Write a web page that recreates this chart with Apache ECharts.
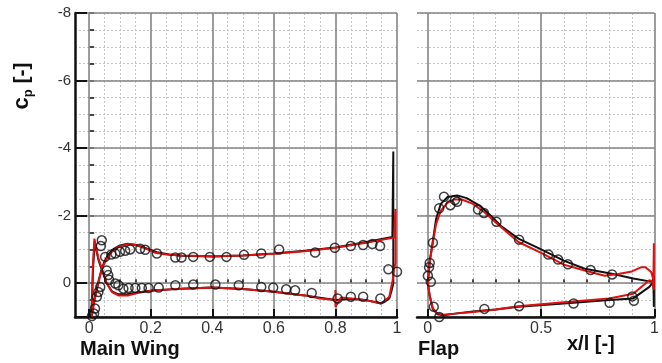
<!DOCTYPE html>
<html>
<head>
<meta charset="utf-8">
<script src="https://cdn.jsdelivr.net/npm/echarts@6/dist/echarts.min.js"></script>
<style>
  html, body { margin: 0; padding: 0; background: #fff; }
  #chart { width: 662px; height: 363px; }
</style>
</head>
<body>
<div id="chart"></div>
<script>
// tick positions
var mainMajorTicks = [0, 0.2, 0.4, 0.6, 0.8, 1];
var mainMinorTicks = [0.05, 0.1, 0.15, 0.25, 0.3, 0.35, 0.45, 0.5, 0.55, 0.65, 0.7, 0.75, 0.85, 0.9, 0.95];
var flapMajorTicks = [0, 0.5, 1];
var flapMinorTicks = [0.1, 0.2, 0.3, 0.4, 0.6, 0.7, 0.8, 0.9];

// main wing, experiment (x/l, cp)
var mainExp = [
  [0.041, -1.27], [0.038, -1.1], [0.052, -0.78], [0.072, -0.85], [0.085, -0.88], [0.1, -0.93],
  [0.117, -0.96], [0.133, -1.0], [0.166, -1.02], [0.182, -0.99], [0.22, -0.88], [0.28, -0.76],
  [0.3, -0.76], [0.338, -0.78], [0.392, -0.78], [0.446, -0.78], [0.503, -0.84], [0.559, -0.88],
  [0.617, -1.0], [0.734, -0.91], [0.798, -1.05], [0.85, -1.1], [0.89, -1.13], [0.92, -1.16],
  [0.945, -1.1], [0.972, -0.41], [1.0, -0.34],
  [0.009, 0.97], [0.016, 0.9], [0.019, 0.75], [0.025, 0.4], [0.03, 0.26], [0.036, 0.11],
  [0.057, -0.38], [0.062, -0.24], [0.065, -0.1], [0.085, 0.01], [0.095, 0.06], [0.111, 0.16],
  [0.128, 0.14], [0.15, 0.14], [0.171, 0.14], [0.193, 0.14], [0.226, 0.13], [0.28, 0.06],
  [0.338, 0.04], [0.41, 0.04], [0.486, 0.06], [0.559, 0.11], [0.598, 0.13], [0.64, 0.18],
  [0.669, 0.21], [0.723, 0.29], [0.807, 0.45], [0.85, 0.4], [0.89, 0.4], [0.946, 0.45]
];
// main wing, black CFD
var mainBlack = [
  [0.006, 1.0], [0.012, 0.7], [0.02, 0.35], [0.03, -0.05], [0.04, -0.4], [0.05, -0.65],
  [0.062, -0.85], [0.08, -1.02], [0.1, -1.12], [0.125, -1.17], [0.15, -1.14], [0.18, -1.05],
  [0.22, -0.92], [0.26, -0.85], [0.3, -0.81], [0.4, -0.79], [0.5, -0.82], [0.6, -0.88],
  [0.7, -0.96], [0.8, -1.06], [0.9, -1.22], [0.985, -1.37], [0.988, -3.9], [0.988, 0.0],
  [0.983, 0.2], [0.975, 0.45], [0.96, 0.55], [0.948, 0.6], [0.9, 0.5], [0.85, 0.47],
  [0.8, 0.5], [0.75, 0.43], [0.7, 0.36], [0.6, 0.25], [0.5, 0.17], [0.4, 0.13], [0.3, 0.16],
  [0.2, 0.22], [0.15, 0.28], [0.12, 0.33], [0.095, 0.33], [0.074, 0.24], [0.057, 0.0],
  [0.041, -0.4], [0.03, -0.7], [0.018, -1.2], [0.013, -0.5], [0.008, 0.7], [0.006, 1.0]
];
// main wing, red CFD
var mainRed = [
  [0.008, 1.0], [0.012, 0.8], [0.02, 0.4], [0.03, 0.0], [0.036, -0.24], [0.045, -0.5],
  [0.052, -0.63], [0.062, -0.8], [0.074, -0.93], [0.095, -1.08], [0.128, -1.16], [0.15, -1.13],
  [0.171, -1.08], [0.215, -0.9], [0.25, -0.85], [0.3, -0.82], [0.4, -0.8], [0.5, -0.82],
  [0.6, -0.87], [0.7, -0.95], [0.8, -1.05], [0.9, -1.2], [0.99, -1.35], [0.995, -1.38],
  [0.995, -2.2], [0.995, -0.6], [0.99, -0.4], [0.986, -0.09], [0.975, 0.4], [0.96, 0.52],
  [0.948, 0.6], [0.925, 0.55], [0.883, 0.48], [0.818, 0.42], [0.8, 0.7], [0.8, 0.2],
  [0.8, 0.5], [0.75, 0.45], [0.7, 0.36], [0.6, 0.25], [0.5, 0.17], [0.4, 0.13], [0.3, 0.16],
  [0.215, 0.21], [0.171, 0.26], [0.128, 0.36], [0.095, 0.36], [0.074, 0.26], [0.057, 0.0],
  [0.041, -0.44], [0.03, -0.74], [0.017, -1.32], [0.012, -0.5], [0.009, 0.95]
];

// flap, experiment
var flapExp = [
  [0.001, -0.22], [0.006, -0.47], [0.009, -0.6], [0.023, -1.2], [0.051, -2.22], [0.072, -2.56],
  [0.1, -2.31], [0.12, -2.46], [0.13, -2.41], [0.222, -2.18], [0.248, -2.08], [0.303, -1.82],
  [0.403, -1.29], [0.532, -0.85], [0.575, -0.7], [0.618, -0.56], [0.718, -0.39], [0.813, -0.26],
  [0.014, -0.04], [0.027, 0.7], [0.051, 1.0], [0.25, 0.76], [0.403, 0.68], [0.643, 0.6],
  [0.802, 0.58], [0.902, 0.39], [0.909, 0.52]
];
// flap, black CFD
var flapBlack = [
  [0.002, 0.05], [0.003, -0.2], [0.009, -0.65], [0.023, -1.25], [0.037, -1.9], [0.058, -2.35],
  [0.087, -2.55], [0.13, -2.6], [0.172, -2.52], [0.229, -2.3], [0.286, -1.95], [0.322, -1.7],
  [0.4, -1.32], [0.5, -1.0], [0.6, -0.67], [0.692, -0.43], [0.806, -0.29], [0.906, -0.14],
  [0.99, -0.04], [0.997, -0.2], [0.997, 0.7], [0.995, -0.05], [0.977, 0.11], [0.906, 0.45],
  [0.8, 0.5], [0.6, 0.6], [0.4, 0.7], [0.3, 0.78], [0.2, 0.84], [0.12, 0.9], [0.07, 0.95],
  [0.044, 0.92], [0.023, 0.77], [0.009, 0.38], [0.002, 0.05]
];
// flap, red CFD
var flapRed = [
  [0.002, 0.05], [0.003, -0.2], [0.009, -0.63], [0.023, -1.2], [0.037, -1.75], [0.058, -2.15],
  [0.087, -2.38], [0.115, -2.48], [0.15, -2.48], [0.2, -2.35], [0.25, -2.1], [0.3, -1.8],
  [0.4, -1.22], [0.5, -0.9], [0.6, -0.55], [0.7, -0.36], [0.78, -0.22], [0.84, -0.27],
  [0.9, -0.35], [0.94, -0.47], [0.96, -0.47], [0.985, -0.33], [0.995, -0.1], [0.997, -1.18],
  [0.997, 0.2], [0.99, -0.05], [0.977, -0.09], [0.906, 0.31], [0.8, 0.45], [0.6, 0.56],
  [0.4, 0.68], [0.3, 0.78], [0.2, 0.85], [0.12, 0.9], [0.07, 0.93], [0.044, 0.9],
  [0.023, 0.75], [0.009, 0.36], [0.002, 0.05]
];

var FONT = '"Liberation Sans", Arial, sans-serif';
var majorLine = { show: true, lineStyle: { color: '#858585', width: 1.6 } };
var minorLine = { show: true, lineStyle: { color: '#c4c4c4', width: 1, type: [2, 2] } };

function xMajor(grid, min, ticks) {
  return {
    type: 'value', gridIndex: grid, min: min, max: 1, position: 'bottom', z: 2,
    axisLine: { show: true, onZero: false, lineStyle: { color: '#111', width: 2.5 } },
    axisTick: { show: true, inside: true, length: 8, customValues: ticks, lineStyle: { color: '#111', width: 2 } },
    axisLabel: { show: true, customValues: ticks, margin: 4, color: '#333', fontSize: 16, fontFamily: FONT },
    splitLine: majorLine
  };
}
function xMinor(grid, min, ticks) {
  return {
    type: 'value', gridIndex: grid, min: min, max: 1, position: 'bottom', z: 1,
    axisLine: { show: false },
    axisTick: { show: true, inside: true, length: 4, customValues: ticks, lineStyle: { color: '#111', width: 1.5 } },
    axisLabel: { show: false, customValues: ticks },
    splitLine: minorLine
  };
}
function yMajor(grid, withAxis) {
  return {
    type: 'value', gridIndex: grid, inverse: true, min: -8, max: 1, interval: 2, position: 'left', z: 2,
    axisLine: { show: withAxis, onZero: false, lineStyle: { color: '#111', width: 2.5 } },
    axisTick: { show: withAxis, inside: true, length: 12, lineStyle: { color: '#111', width: 2 } },
    axisLabel: {
      show: withAxis, margin: 4, color: '#333', fontSize: 15, fontFamily: FONT,
      formatter: function (v) { return v === 1 ? '' : String(v); }
    },
    splitLine: majorLine
  };
}
function yMinor(grid, withAxis) {
  return {
    type: 'value', gridIndex: grid, inverse: true, min: -8, max: 1, interval: 0.5, position: 'left', z: 1,
    axisLine: { show: false },
    axisTick: { show: withAxis, inside: true, length: 5, lineStyle: { color: '#111', width: 1.5 } },
    axisLabel: { show: false },
    splitLine: minorLine
  };
}
function line(xi, yi, data, color) {
  return {
    type: 'line', xAxisIndex: xi, yAxisIndex: yi, data: data, symbol: 'none',
    lineStyle: { color: color, width: 2 }, z: 3
  };
}
function points(xi, yi, data) {
  return {
    type: 'scatter', xAxisIndex: xi, yAxisIndex: yi, data: data, symbol: 'circle', symbolSize: 9,
    itemStyle: { color: 'rgba(255,255,255,0)', borderColor: '#111', borderWidth: 1.5 }, z: 4
  };
}

var myChart = echarts.init(document.getElementById('chart'));
var option = {
  animation: false,
  backgroundColor: '#fff',
  grid: [
    { left: 75, top: 13, width: 322, height: 304 },
    { left: 417, top: 13, width: 245, height: 304 }
  ],
  xAxis: [
    xMajor(0, -0.046, mainMajorTicks), xMinor(0, -0.046, mainMinorTicks),
    xMajor(1, -0.047, flapMajorTicks), xMinor(1, -0.047, flapMinorTicks)
  ],
  yAxis: [yMajor(0, true), yMinor(0, true), yMajor(1, false), yMinor(1, false)],
  series: [
    line(0, 0, mainBlack, '#111'),
    line(0, 0, mainRed, '#e01010'),
    points(0, 0, mainExp),
    line(2, 2, flapBlack, '#111'),
    line(2, 2, flapRed, '#e01010'),
    points(2, 2, flapExp)
  ],
  graphic: [
    {
      type: 'text', x: 22, y: 86, rotation: Math.PI / 2,
      style: {
        text: '{c|c}{p|p}{b| [-]}', align: 'center', verticalAlign: 'middle',
        rich: {
          c: { fontSize: 22, fontWeight: 'bold', fontFamily: FONT, fill: '#111', lineHeight: 26 },
          p: { fontSize: 13, fontWeight: 'bold', fontFamily: FONT, fill: '#111', verticalAlign: 'bottom', lineHeight: 13 },
          b: { fontSize: 21, fontWeight: 'bold', fontFamily: FONT, fill: '#111', lineHeight: 26 }
        }
      }
    },
    { type: 'text', left: 80, top: 339, style: { text: 'Main Wing', fontSize: 20, fontWeight: 'bold', fontFamily: FONT, fill: '#111' } },
    { type: 'text', left: 418, top: 339, style: { text: 'Flap', fontSize: 20, fontWeight: 'bold', fontFamily: FONT, fill: '#111' } },
    { type: 'text', left: 567, top: 334, style: { text: 'x/l [-]', fontSize: 20, fontWeight: 'bold', fontFamily: FONT, fill: '#111' } }
  ]
};
myChart.setOption(option);
</script>
</body>
</html>
